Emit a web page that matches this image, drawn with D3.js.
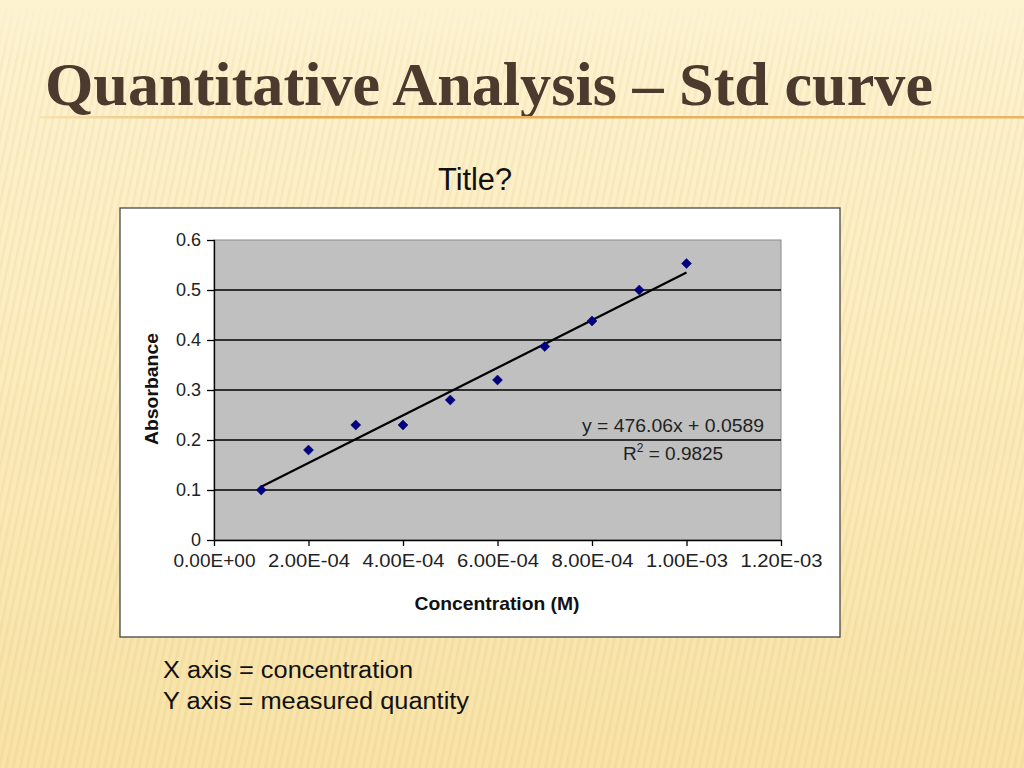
<!DOCTYPE html>
<html>
<head>
<meta charset="utf-8">
<script src="https://cdn.jsdelivr.net/npm/d3@7"></script>
<style>
  html, body { margin: 0; padding: 0; background: #fcefc6; }
  svg { display: block; }
</style>
</head>
<body>
<div id="slide"></div>
<script>
// Standard curve slide: absorbance vs concentration with a linear trendline.

const concentrations = [1e-4, 2e-4, 3e-4, 4e-4, 5e-4, 6e-4, 7e-4, 8e-4, 9e-4, 1e-3];
const absorbances = [0.10, 0.18, 0.23, 0.23, 0.28, 0.32, 0.387, 0.438, 0.50, 0.553];
const xTicks = [0, 2e-4, 4e-4, 6e-4, 8e-4, 1e-3, 1.2e-3];
const xTickLabels = ['0.00E+00', '2.00E-04', '4.00E-04', '6.00E-04', '8.00E-04', '1.00E-03', '1.20E-03'];
const yTicks = [0, 0.1, 0.2, 0.3, 0.4, 0.5, 0.6];
const yTickLabels = ['0', '0.1', '0.2', '0.3', '0.4', '0.5', '0.6'];
const trendSlope = 476.06;
const trendIntercept = 0.0589;
const trendR2 = '0.9825';

const W = 1024, H = 768;
const sans = '"Liberation Sans", Arial, sans-serif';

const svg = d3.select('#slide').append('svg')
  .attr('width', W)
  .attr('height', H);

const defs = svg.append('defs');

// Slide background: warm cream with faint slanted stripes
const bgGrad = defs.append('linearGradient')
  .attr('id', 'bg-grad')
  .attr('x1', 0).attr('y1', 0).attr('x2', 0).attr('y2', 1);
bgGrad.append('stop').attr('offset', '0%').attr('stop-color', '#fdf3d2');
bgGrad.append('stop').attr('offset', '45%').attr('stop-color', '#fcedc0');
bgGrad.append('stop').attr('offset', '100%').attr('stop-color', '#f8e2a6');

const stripes = defs.append('pattern')
  .attr('id', 'stripes')
  .attr('patternUnits', 'userSpaceOnUse')
  .attr('width', 7).attr('height', 7)
  .attr('patternTransform', 'skewX(-12)');
stripes.append('rect')
  .attr('x', 0).attr('y', 0).attr('width', 2.5).attr('height', 7)
  .attr('fill', '#e8cf8a').attr('opacity', 0.35);

const stripeFade = defs.append('linearGradient')
  .attr('id', 'stripe-fade')
  .attr('x1', 0).attr('y1', 0).attr('x2', 0).attr('y2', 1);
stripeFade.append('stop').attr('offset', '0%').attr('stop-color', '#fff').attr('stop-opacity', 0);
stripeFade.append('stop').attr('offset', '8%').attr('stop-color', '#fff').attr('stop-opacity', 0.6);
stripeFade.append('stop').attr('offset', '100%').attr('stop-color', '#fff').attr('stop-opacity', 1);
defs.append('mask').attr('id', 'stripe-mask')
  .append('rect').attr('width', W).attr('height', H).attr('fill', 'url(#stripe-fade)');

svg.append('rect').attr('width', W).attr('height', H).attr('fill', 'url(#bg-grad)');
svg.append('rect').attr('width', W).attr('height', H)
  .attr('fill', 'url(#stripes)')
  .attr('mask', 'url(#stripe-mask)');

// Slide heading
svg.append('text')
  .attr('x', 45).attr('y', 105)
  .attr('font-family', '"Liberation Serif", "Times New Roman", serif')
  .attr('font-weight', 'bold')
  .attr('font-size', 61)
  .attr('fill', '#4b3a2d')
  .attr('textLength', 888)
  .attr('lengthAdjust', 'spacingAndGlyphs')
  .text('Quantitative Analysis \u2013 Std curve');

const ruleGrad = defs.append('linearGradient')
  .attr('id', 'rule-grad')
  .attr('x1', 0).attr('y1', 0).attr('x2', 1).attr('y2', 0);
ruleGrad.append('stop').attr('offset', '0%').attr('stop-color', '#f6e2b4');
ruleGrad.append('stop').attr('offset', '25%').attr('stop-color', '#e6a94e');
ruleGrad.append('stop').attr('offset', '100%').attr('stop-color', '#eab462');
svg.append('rect')
  .attr('x', 40).attr('y', 116).attr('width', W - 40).attr('height', 2.5)
  .attr('fill', 'url(#rule-grad)');

// Chart title placeholder
svg.append('text')
  .attr('x', 438).attr('y', 190)
  .attr('font-family', sans)
  .attr('font-size', 31)
  .attr('fill', '#111')
  .attr('textLength', 74)
  .attr('lengthAdjust', 'spacingAndGlyphs')
  .text('Title?');

// Chart frame
svg.append('rect')
  .attr('x', 120).attr('y', 208)
  .attr('width', 720).attr('height', 429)
  .attr('fill', '#ffffff')
  .attr('stroke', '#3a3a3a')
  .attr('stroke-width', 1.2);

const plot = { left: 214, right: 781, top: 240, bottom: 540 };

const x = d3.scaleLinear()
  .domain([0, 1.2e-3])
  .range([plot.left, plot.right]);
const y = d3.scaleLinear()
  .domain([0, 0.6])
  .range([plot.bottom, plot.top]);

const chart = svg.append('g');

chart.append('rect')
  .attr('x', plot.left).attr('y', plot.top)
  .attr('width', plot.right - plot.left).attr('height', plot.bottom - plot.top)
  .attr('fill', '#c0c0c0')
  .attr('stroke', '#8a8a8a')
  .attr('stroke-width', 1);

// Horizontal gridlines
chart.append('g')
  .selectAll('line')
  .data(yTicks.filter(v => v > 0 && v < 0.6))
  .join('line')
  .attr('x1', plot.left).attr('x2', plot.right)
  .attr('y1', d => y(d)).attr('y2', d => y(d))
  .attr('stroke', '#000')
  .attr('stroke-width', 1.3);

// Axes
const xAxis = d3.axisBottom(x)
  .tickValues(xTicks)
  .tickFormat((d, i) => xTickLabels[i])
  .tickSize(6)
  .tickSizeOuter(0)
  .tickPadding(9);
const yAxis = d3.axisLeft(y)
  .tickValues(yTicks)
  .tickFormat((d, i) => yTickLabels[i])
  .tickSize(7)
  .tickSizeOuter(0)
  .tickPadding(6);

const gx = chart.append('g')
  .attr('transform', `translate(0,${plot.bottom})`)
  .call(xAxis);
const gy = chart.append('g')
  .attr('transform', `translate(${plot.left},0)`)
  .call(yAxis);

[gx, gy].forEach(g => {
  g.select('.domain').attr('stroke', '#000').attr('stroke-width', 1.3);
  g.selectAll('.tick line').attr('stroke', '#000').attr('stroke-width', 1.3);
  g.selectAll('.tick text')
    .attr('font-family', sans)
    .attr('fill', '#222');
});
gx.selectAll('.tick text')
  .attr('font-size', 17.5)
  .attr('textLength', 82)
  .attr('lengthAdjust', 'spacingAndGlyphs');
gy.selectAll('.tick text')
  .attr('font-size', 18);
// The y axis ticks cross the axis a little like Excel's
gy.selectAll('.tick line').attr('x2', -7).attr('x1', 1);

// Axis titles
svg.append('text')
  .attr('x', 497).attr('y', 610)
  .attr('text-anchor', 'middle')
  .attr('font-family', sans)
  .attr('font-weight', 'bold')
  .attr('font-size', 18.5)
  .attr('fill', '#111')
  .attr('textLength', 165)
  .attr('lengthAdjust', 'spacingAndGlyphs')
  .text('Concentration (M)');

svg.append('text')
  .attr('transform', 'translate(158,389) rotate(-90)')
  .attr('text-anchor', 'middle')
  .attr('font-family', sans)
  .attr('font-weight', 'bold')
  .attr('font-size', 18.5)
  .attr('fill', '#111')
  .attr('textLength', 112)
  .attr('lengthAdjust', 'spacingAndGlyphs')
  .text('Absorbance');

// Trendline over the data range
const xExtent = d3.extent(concentrations);
const trendPts = xExtent.map(c => [c, trendSlope * c + trendIntercept]);
chart.append('path')
  .datum(trendPts)
  .attr('d', d3.line().x(d => x(d[0])).y(d => y(d[1])))
  .attr('fill', 'none')
  .attr('stroke', '#000')
  .attr('stroke-width', 2.2);

// Data points as navy diamonds
const points = concentrations.map((c, i) => ({ c, a: absorbances[i] }));
chart.append('g')
  .selectAll('path')
  .data(points)
  .join('path')
  .attr('transform', d => `translate(${x(d.c)},${y(d.a)})`)
  .attr('d', d3.symbol().type(d3.symbolDiamond2).size(64))
  .attr('fill', '#000080')
  .attr('stroke', '#000060')
  .attr('stroke-width', 0.5);

// Trendline equation
chart.append('text')
  .attr('x', 582).attr('y', 432)
  .attr('font-family', sans)
  .attr('font-size', 19)
  .attr('fill', '#222')
  .attr('textLength', 182)
  .attr('lengthAdjust', 'spacingAndGlyphs')
  .text(`y = ${trendSlope}x + ${trendIntercept}`);

const r2 = chart.append('text')
  .attr('x', 623).attr('y', 460)
  .attr('font-family', sans)
  .attr('font-size', 19)
  .attr('fill', '#222');
r2.append('tspan').text('R');
r2.append('tspan').attr('dy', -8).attr('font-size', 12).text('2');
r2.append('tspan').attr('dy', 8).text(` = ${trendR2}`);

// Notes below the chart
const notes = ['X axis = concentration', 'Y axis = measured quantity'];
const noteWidths = [250, 306];
svg.append('g')
  .selectAll('text')
  .data(notes)
  .join('text')
  .attr('x', 163)
  .attr('y', (d, i) => 678 + i * 31)
  .attr('font-family', sans)
  .attr('font-size', 23)
  .attr('fill', '#111')
  .attr('textLength', (d, i) => noteWidths[i])
  .attr('lengthAdjust', 'spacingAndGlyphs')
  .text(d => d);
</script>
</body>
</html>
